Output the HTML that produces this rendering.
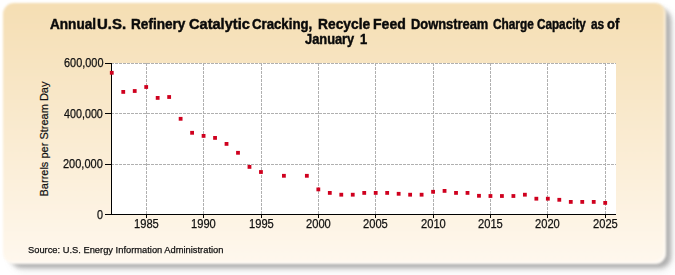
<!DOCTYPE html>
<html><head><meta charset="utf-8"><style>
html,body{margin:0;padding:0;width:675px;height:275px;overflow:hidden;background:#fff;}
body{position:relative;font-family:"Liberation Sans",sans-serif;color:#222;}
.shadow2{position:absolute;left:11.5px;top:11px;width:661px;height:260px;border-radius:14px;background:rgba(100,100,104,0.13);filter:blur(4.5px);}
.shadow{position:absolute;left:9.5px;top:8px;width:661px;height:260px;border-radius:12px;background:rgba(70,70,70,0.36);filter:blur(2.2px);}
.panel{position:absolute;left:3px;top:3px;width:663px;height:260.5px;border-radius:11px;
background:linear-gradient(to bottom,#f5deb3 0%,#fff8ee 100%);filter:blur(0.9px);
box-shadow:inset -2px -2px 2px rgba(255,255,255,0.55);}
svg{position:absolute;left:0;top:0;}
.g{stroke:#b0b0b0;stroke-width:1;stroke-dasharray:3 1;shape-rendering:crispEdges;}
.a{stroke:#000;stroke-width:1;shape-rendering:crispEdges;}
.d{fill:#cf001e;}
.title{position:absolute;left:-3px;width:675px;top:14px;text-align:center;font-weight:bold;font-size:13.5px;line-height:15px;color:#111;letter-spacing:-0.1px;}
.t,.tb{position:absolute;line-height:20px;white-space:nowrap;transform-origin:0 0;color:#111;-webkit-text-stroke:0.25px #111;}
.tb{font-weight:bold;color:#0a0a0a;-webkit-text-stroke:0.45px #0a0a0a;}
.xl{position:absolute;top:217px;width:60px;text-align:center;font-size:12px;line-height:14px;color:#222;letter-spacing:-0.5px;}
.yl{position:absolute;right:571.5px;font-size:12px;line-height:14px;color:#222;text-align:right;letter-spacing:-0.45px;}
.ytitle{position:absolute;left:43.5px;top:139px;width:200px;margin-left:-100px;margin-top:-7px;text-align:center;font-size:11px;line-height:14px;transform:rotate(-90deg);color:#111;-webkit-text-stroke:0.2px #111;}
.src{position:absolute;left:29px;top:243px;font-size:9.45px;line-height:13px;color:#222;}
</style></head><body>
<div class="shadow2"></div><div class="shadow"></div><div class="panel"></div>
<svg width="675" height="275" viewBox="0 0 675 275">
<rect x="111" y="63" width="505" height="151" fill="#fff"/><line x1="111" y1="63.5" x2="616" y2="63.5" class="g"/><line x1="111" y1="113.5" x2="616" y2="113.5" class="g"/><line x1="111" y1="164.0" x2="616" y2="164.0" class="g"/><line x1="146.5" y1="63" x2="146.5" y2="214" class="g"/><line x1="203.5" y1="63" x2="203.5" y2="214" class="g"/><line x1="261.5" y1="63" x2="261.5" y2="214" class="g"/><line x1="318.5" y1="63" x2="318.5" y2="214" class="g"/><line x1="375.5" y1="63" x2="375.5" y2="214" class="g"/><line x1="433.5" y1="63" x2="433.5" y2="214" class="g"/><line x1="490.5" y1="63" x2="490.5" y2="214" class="g"/><line x1="547.5" y1="63" x2="547.5" y2="214" class="g"/><line x1="605.5" y1="63" x2="605.5" y2="214" class="g"/><line x1="111.5" y1="63" x2="111.5" y2="214.5" class="a"/><line x1="105" y1="214.5" x2="616" y2="214.5" class="a"/><line x1="105" y1="63.5" x2="111" y2="63.5" class="a"/><line x1="105" y1="113.5" x2="111" y2="113.5" class="a"/><line x1="105" y1="164.0" x2="111" y2="164.0" class="a"/><line x1="146.5" y1="214" x2="146.5" y2="218" class="a"/><line x1="203.5" y1="214" x2="203.5" y2="218" class="a"/><line x1="261.5" y1="214" x2="261.5" y2="218" class="a"/><line x1="318.5" y1="214" x2="318.5" y2="218" class="a"/><line x1="375.5" y1="214" x2="375.5" y2="218" class="a"/><line x1="433.5" y1="214" x2="433.5" y2="218" class="a"/><line x1="490.5" y1="214" x2="490.5" y2="218" class="a"/><line x1="547.5" y1="214" x2="547.5" y2="218" class="a"/><line x1="605.5" y1="214" x2="605.5" y2="218" class="a"/><rect x="109.87" y="70.90" width="3.8" height="3.8" class="d"/><rect x="121.35" y="90.00" width="3.8" height="3.8" class="d"/><rect x="132.82" y="89.10" width="3.8" height="3.8" class="d"/><rect x="144.30" y="85.10" width="3.8" height="3.8" class="d"/><rect x="155.77" y="96.00" width="3.8" height="3.8" class="d"/><rect x="167.25" y="95.10" width="3.8" height="3.8" class="d"/><rect x="178.72" y="116.90" width="3.8" height="3.8" class="d"/><rect x="190.20" y="130.90" width="3.8" height="3.8" class="d"/><rect x="201.67" y="134.00" width="3.8" height="3.8" class="d"/><rect x="213.15" y="136.00" width="3.8" height="3.8" class="d"/><rect x="224.62" y="142.00" width="3.8" height="3.8" class="d"/><rect x="236.10" y="150.90" width="3.8" height="3.8" class="d"/><rect x="247.57" y="165.00" width="3.8" height="3.8" class="d"/><rect x="259.05" y="170.10" width="3.8" height="3.8" class="d"/><rect x="282.00" y="173.90" width="3.8" height="3.8" class="d"/><rect x="304.95" y="173.90" width="3.8" height="3.8" class="d"/><rect x="316.43" y="187.50" width="3.8" height="3.8" class="d"/><rect x="327.90" y="191.00" width="3.8" height="3.8" class="d"/><rect x="339.38" y="192.80" width="3.8" height="3.8" class="d"/><rect x="350.85" y="192.80" width="3.8" height="3.8" class="d"/><rect x="362.33" y="191.00" width="3.8" height="3.8" class="d"/><rect x="373.80" y="191.00" width="3.8" height="3.8" class="d"/><rect x="385.27" y="191.00" width="3.8" height="3.8" class="d"/><rect x="396.75" y="191.90" width="3.8" height="3.8" class="d"/><rect x="408.23" y="192.80" width="3.8" height="3.8" class="d"/><rect x="419.70" y="192.80" width="3.8" height="3.8" class="d"/><rect x="431.18" y="189.90" width="3.8" height="3.8" class="d"/><rect x="442.65" y="189.00" width="3.8" height="3.8" class="d"/><rect x="454.12" y="191.00" width="3.8" height="3.8" class="d"/><rect x="465.60" y="191.00" width="3.8" height="3.8" class="d"/><rect x="477.07" y="193.90" width="3.8" height="3.8" class="d"/><rect x="488.55" y="194.10" width="3.8" height="3.8" class="d"/><rect x="500.02" y="194.10" width="3.8" height="3.8" class="d"/><rect x="511.50" y="194.10" width="3.8" height="3.8" class="d"/><rect x="522.98" y="192.80" width="3.8" height="3.8" class="d"/><rect x="534.45" y="196.80" width="3.8" height="3.8" class="d"/><rect x="545.93" y="196.80" width="3.8" height="3.8" class="d"/><rect x="557.40" y="197.90" width="3.8" height="3.8" class="d"/><rect x="568.88" y="200.00" width="3.8" height="3.8" class="d"/><rect x="580.35" y="200.00" width="3.8" height="3.8" class="d"/><rect x="591.82" y="200.00" width="3.8" height="3.8" class="d"/><rect x="603.30" y="201.00" width="3.8" height="3.8" class="d"/>
</svg>
<div class="tb" style="left:50.16px;top:13.6px;font-size:14px;transform:scaleX(0.9707)">Annual</div>
<div class="tb" style="left:96.84px;top:13.6px;font-size:14px;transform:scaleX(1.0686)">U.S.</div>
<div class="tb" style="left:130.88px;top:13.6px;font-size:14px;transform:scaleX(0.9715)">Refinery</div>
<div class="tb" style="left:188.99px;top:13.6px;font-size:14px;transform:scaleX(1.0417)">Catalytic</div>
<div class="tb" style="left:252.18px;top:13.6px;font-size:14px;transform:scaleX(0.9435)">Cracking,</div>
<div class="tb" style="left:317.65px;top:13.6px;font-size:14px;transform:scaleX(0.9862)">Recycle</div>
<div class="tb" style="left:372.87px;top:13.6px;font-size:14px;transform:scaleX(1.0033)">Feed</div>
<div class="tb" style="left:410.63px;top:13.6px;font-size:14px;transform:scaleX(0.9203)">Downstream</div>
<div class="tb" style="left:493.34px;top:13.6px;font-size:14px;transform:scaleX(0.8443)">Charge</div>
<div class="tb" style="left:537.15px;top:13.6px;font-size:14px;transform:scaleX(0.8365)">Capacity</div>
<div class="tb" style="left:591.26px;top:13.6px;font-size:14px;transform:scaleX(0.845)">as</div>
<div class="tb" style="left:606.58px;top:13.6px;font-size:14px;transform:scaleX(0.9343)">of</div>
<div class="tb" style="left:305.33px;top:29.2px;font-size:14px;transform:scaleX(0.9172)">January</div>
<div class="tb" style="left:360.32px;top:29.2px;font-size:14px;transform:scaleX(0.9262)">1</div>
<div class="t" style="left:63.69px;top:52.9px;font-size:12px;transform:scaleX(0.9095)">600,000</div>
<div class="t" style="left:64.3px;top:104.1px;font-size:12px;transform:scaleX(0.8953)">400,000</div>
<div class="t" style="left:63.38px;top:154.1px;font-size:12px;transform:scaleX(0.9167)">200,000</div>
<div class="t" style="left:96.5px;top:205.4px;font-size:12px;transform:scaleX(0.9)">0</div>
<div class="t" style="left:28.42px;top:239.7px;font-size:9.5px;transform:scaleX(0.9817)">Source: U.S. Energy Information Administration</div>
<div class="t" style="left:133.87px;top:214.1px;font-size:12px;transform:scaleX(0.928)">1985</div>
<div class="t" style="left:190.77px;top:214.1px;font-size:12px;transform:scaleX(0.928)">1990</div>
<div class="t" style="left:248.97px;top:214.1px;font-size:12px;transform:scaleX(0.928)">1995</div>
<div class="t" style="left:305.77px;top:214.1px;font-size:12px;transform:scaleX(0.928)">2000</div>
<div class="t" style="left:362.77px;top:214.1px;font-size:12px;transform:scaleX(0.928)">2005</div>
<div class="t" style="left:420.77px;top:214.1px;font-size:12px;transform:scaleX(0.928)">2010</div>
<div class="t" style="left:477.87px;top:214.1px;font-size:12px;transform:scaleX(0.928)">2015</div>
<div class="t" style="left:535.07px;top:214.1px;font-size:12px;transform:scaleX(0.928)">2020</div>
<div class="t" style="left:592.87px;top:214.1px;font-size:12px;transform:scaleX(0.928)">2025</div>

<div class="ytitle">Barrels per Stream Day</div>
</body></html>
